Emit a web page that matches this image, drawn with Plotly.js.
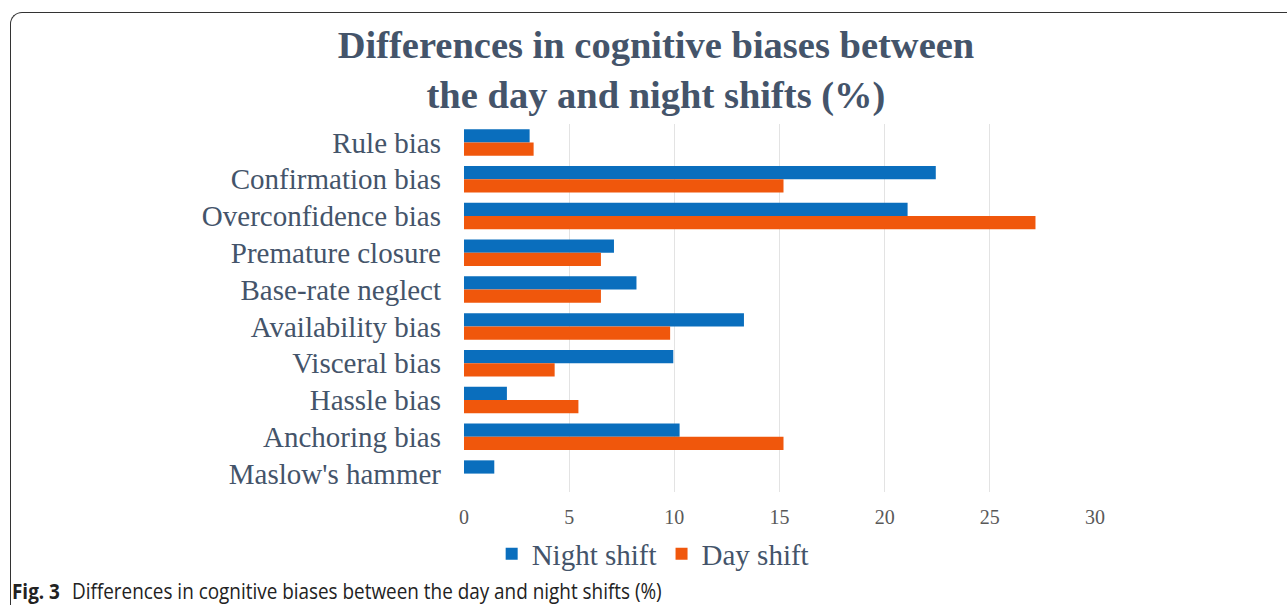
<!DOCTYPE html>
<html>
<head>
<meta charset="utf-8">
<script src="https://cdn.plot.ly/plotly-3.0.1.min.js"></script>
<style>
  html, body { margin: 0; padding: 0; background: #fff; }
  #wrap { position: relative; width: 1287px; height: 611px; overflow: hidden; }
  #frame { position: absolute; left: 10px; top: 12px; width: 1300px; height: 592px;
           border-left: 1.5px solid #333; border-top: 1.5px solid #333; border-top-left-radius: 12px; }
  #chart { position: absolute; left: 0; top: 0; width: 1287px; height: 611px; }
  #caption { position: absolute; left: 12px; top: 577px; font-family: "Open Sans", "Noto Sans", sans-serif;
             font-size: 21px; color: #222; white-space: nowrap; transform: scaleX(0.90); transform-origin: left top; }
  #caption b { font-weight: bold; margin-right: 8px; }
</style>
</head>
<body>
<div id="wrap">
  <div id="frame"></div>
  <div id="chart"></div>
  <div id="caption"><b>Fig. 3</b> Differences in cognitive biases between the day and night shifts (%)</div>
</div>
<script>
const categories = ["Rule bias", "Confirmation bias", "Overconfidence bias", "Premature closure",
  "Base-rate neglect", "Availability bias", "Visceral bias", "Hassle bias", "Anchoring bias", "Maslow's hammer"];
const nightShift = [3.12, 22.43, 21.09, 7.13, 8.20, 13.31, 9.95, 2.04, 10.25, 1.44];
const dayShift   = [3.31, 15.19, 27.17, 6.51, 6.51, 9.80, 4.31, 5.44, 15.19, 0];
const xTicks = [0, 5, 10, 15, 20, 25, 30];

const traces = [
  { type: 'bar', orientation: 'h', name: 'Night shift', y: categories, x: nightShift,
    marker: { color: '#0A6EBD' } },
  { type: 'bar', orientation: 'h', name: 'Day shift', y: categories, x: dayShift,
    marker: { color: '#F0570C' } }
];

const layout = {
  width: 1287, height: 611,
  margin: { l: 464, r: 192, t: 124, b: 119 },
  paper_bgcolor: 'rgba(0,0,0,0)', plot_bgcolor: 'rgba(0,0,0,0)',
  barmode: 'group', bargap: 0.28, bargroupgap: 0,
  title: { text: 'Differences in cognitive biases between<br>the day and night shifts (%)',
    font: { family: 'Liberation Serif, Times New Roman, serif', size: 38.5, color: '#44546A', weight: 'bold' },
    xref: 'container', x: 0.5097, xanchor: 'center', yref: 'container', y: 0.905, yanchor: 'top' },
  xaxis: { range: [0, 30], tickvals: xTicks, ticktext: xTicks.map(String),
    showgrid: true, gridcolor: '#E3E3E3', gridwidth: 1, zeroline: false, showline: false,
    ticks: '', ticklabelstandoff: 11,
    tickfont: { family: 'Liberation Serif, serif', size: 20, color: '#595959' }, fixedrange: true },
  yaxis: { autorange: 'reversed', showgrid: false, zeroline: false, showline: false,
    ticks: '', ticklabelstandoff: 22,
    tickfont: { family: 'Liberation Serif, serif', size: 29, color: '#44546A' }, fixedrange: true },
  showlegend: true,
  legend: { orientation: 'h', x: 0.299, xanchor: 'center', y: -0.168, yanchor: 'middle',
    font: { family: 'Liberation Serif, serif', size: 29, color: '#44546A' }, itemwidth: 30,
    bgcolor: 'rgba(0,0,0,0)' }
};

Plotly.newPlot('chart', traces, layout, { displayModeBar: false, staticPlot: true });
</script>
</body>
</html>
